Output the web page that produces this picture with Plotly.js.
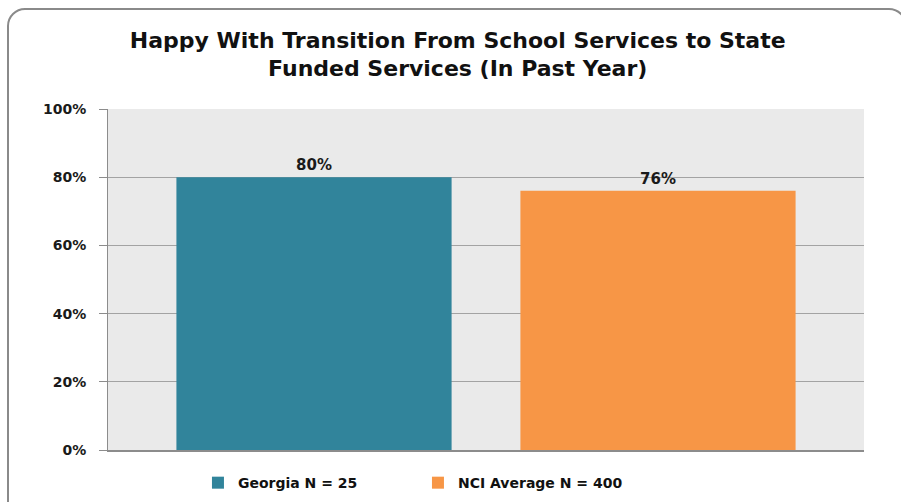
<!DOCTYPE html>
<html>
<head>
<meta charset="utf-8">
<script src="https://cdn.plot.ly/plotly-3.0.1.min.js"></script>
<style>
  html, body { margin: 0; padding: 0; background: #fff; overflow: hidden; }
  #wrap { position: relative; width: 901px; height: 502px; }
  #chart { position: absolute; left: 0; top: 0; width: 901px; height: 502px; }
  #frame { position: absolute; left: 7px; top: 8px; width: 900px; height: 520px;
           border: 2px solid #8a8a8a; border-radius: 18px; box-sizing: border-box;
           pointer-events: none; }
</style>
</head>
<body>
<div id="wrap">
  <div id="chart"></div>
  <div id="frame"></div>
</div>
<script>
const chartTitle = "Happy With Transition From School Services to State<br>Funded Services (In Past Year)";
const categories = ["Happy With Transition"];
const seriesNames = ["Georgia N = 25", "NCI Average N = 400"];
const georgiaValues = [0.80];
const nciValues = [0.76];
const yTickValues = [0, 0.2, 0.4, 0.6, 0.8, 1.0];
const yTickLabels = ["0%", "20%", "40%", "60%", "80%", "100%"];

const fontFam = "'DejaVu Sans', sans-serif";

const traces = [
  {
    type: "bar", name: seriesNames[0], x: categories, y: georgiaValues,
    marker: { color: "#31849b" },
    texttemplate: "%{y:.0%}", textposition: "outside", cliponaxis: false,
    textfont: { family: fontFam, size: 15, color: "#1a1a1a", weight: "bold" },
    hoverinfo: "none"
  },
  {
    type: "bar", name: seriesNames[1], x: categories, y: nciValues,
    marker: { color: "#f79646" },
    texttemplate: "%{y:.0%}", textposition: "outside", cliponaxis: false,
    textfont: { family: fontFam, size: 15, color: "#1a1a1a", weight: "bold" },
    hoverinfo: "none"
  }
];

const layout = {
  width: 901, height: 502,
  margin: { l: 108, r: 37, t: 109, b: 52, pad: 0, autoexpand: false },
  paper_bgcolor: "#ffffff",
  plot_bgcolor: "#eaeaea",
  font: { family: fontFam, color: "#1a1a1a" },
  title: {
    text: chartTitle,
    x: 0.508, xanchor: "center", xref: "container",
    y: 0.905, yanchor: "middle", yref: "container",
    font: { family: fontFam, size: 22, color: "#111", weight: "bold" }
  },
  barmode: "group",
  bargap: 0.09,
  bargroupgap: 0.2,
  showlegend: true,
  legend: {
    orientation: "h", x: 0.41, xanchor: "center", y: -0.097, yanchor: "middle",
    font: { family: fontFam, size: 14, color: "#111", weight: "bold" },
    entrywidth: 175, entrywidthmode: "pixels",
    traceorder: "normal", bgcolor: "rgba(0,0,0,0)"
  },
  xaxis: {
    showticklabels: false, ticks: "", showgrid: false, zeroline: false,
    showline: true, linecolor: "#8c8c8c", linewidth: 1.5, fixedrange: true
  },
  yaxis: {
    range: [0, 1], tickvals: yTickValues, ticktext: yTickLabels,
    ticks: "outside", ticklen: 8, tickcolor: "#8c8c8c", tickwidth: 1,
    showgrid: true, gridcolor: "#a3a3a3", gridwidth: 1,
    zeroline: false, showline: true, linecolor: "#8c8c8c", linewidth: 1,
    tickfont: { family: fontFam, size: 14, color: "#1a1a1a", weight: "bold" },
    ticklabelstandoff: 10, fixedrange: true
  }
};

Plotly.newPlot("chart", traces, layout, { displayModeBar: false, staticPlot: true });
</script>
</body>
</html>
